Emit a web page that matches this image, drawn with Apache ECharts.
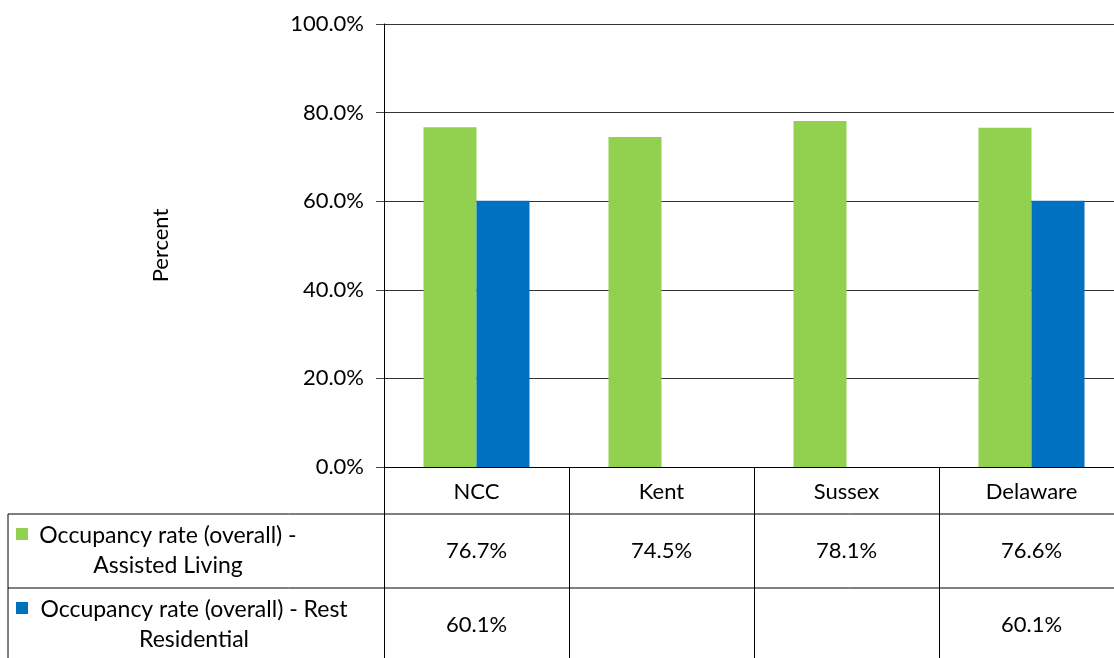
<!DOCTYPE html>
<html><head><meta charset="utf-8">
<script src="https://cdn.jsdelivr.net/npm/echarts@6/dist/echarts.min.js"></script>
<style>html,body{margin:0;padding:0;background:#fff;overflow:hidden;width:1114px;height:658px}#c{width:1130px;height:658px}</style>
</head><body><div id="c"></div>
<script>
const categories = ['NCC', 'Kent', 'Sussex', 'Delaware'];
const assistedLiving = [76.7, 74.5, 78.1, 76.6];
const restResidential = [60.1, null, null, 60.1];
const seriesNames = ['Occupancy rate (overall) -\nAssisted Living', 'Occupancy rate (overall) - Rest\nResidential'];
const yTicks = [0, 20, 40, 60, 80, 100];
const colors = ['#92D050', '#0070C0'];
const FONT = 'Lato';
const FS = 22;

const chart = echarts.init(document.getElementById('c'));
chart.setOption({
  animation: false,
  textStyle: { fontFamily: FONT },
  grid: { left: 384, top: 24, width: 740, height: 443, containLabel: false },
  xAxis: {
    type: 'category', data: categories,
    axisLine: { lineStyle: { color: '#000', width: 1 } },
    axisTick: { show: false },
    axisLabel: { color: '#000', fontSize: FS, fontFamily: FONT, margin: 14 }
  },
  yAxis: {
    type: 'value', min: 0, max: 100, interval: 20,
    name: 'Percent', nameLocation: 'middle', nameGap: 212, nameRotate: 90,
    nameTextStyle: { color: '#000', fontSize: FS, fontFamily: FONT },
    axisLine: { show: true, lineStyle: { color: '#000' } },
    axisTick: { show: true, length: 8, lineStyle: { color: '#444' } },
    axisLabel: { color: '#000', fontSize: FS, fontFamily: FONT, margin: 20,
      formatter: v => yTicks.includes(v) ? v.toFixed(1) + '%' : '' },
    splitLine: { lineStyle: { color: '#333', width: 1 } }
  },
  series: [
    { name: seriesNames[0], type: 'bar', data: assistedLiving, barWidth: 53, barGap: '0%',
      itemStyle: { color: colors[0] } },
    { name: seriesNames[1], type: 'bar', data: restResidential, barWidth: 53, barGap: '0%',
      itemStyle: { color: colors[1] } }
  ]
});

// data table below the chart
const x0 = chart.convertToPixel({ xAxisIndex: 0 }, categories[0]);
const x1 = chart.convertToPixel({ xAxisIndex: 0 }, categories[1]);
const step = x1 - x0;
const axisX = x0 - step / 2;
const yAxisBottom = chart.convertToPixel({ yAxisIndex: 0 }, 0);
const rowTops = [514, 588];
const rowH = 74;
const tableLeft = 8;
const RIGHT = 1130;
const g = [];
const line = (xa, ya, xb, yb) => g.push({ type: 'line', shape: { x1: xa, y1: ya, x2: xb, y2: yb }, style: { stroke: '#000', lineWidth: 1 }, silent: true });
line(tableLeft, rowTops[0], RIGHT, rowTops[0]);
line(tableLeft, rowTops[1], RIGHT, rowTops[1]);
line(tableLeft, rowTops[0], tableLeft, 658);
for (let i = 0; i < categories.length; i++) {
  line(Math.round(axisX + step * i) + 0.5, yAxisBottom, Math.round(axisX + step * i) + 0.5, 658);
}
const rows = [assistedLiving, restResidential];
const legendCenters = [168, 194];
rows.forEach((arr, r) => {
  const cy = rowTops[r] + rowH / 2;
  g.push({ type: 'rect', shape: { x: 16, y: cy - 23, width: 12, height: 12 }, style: { fill: colors[r] } });
  g.push({ type: 'text', x: legendCenters[r], y: cy, style: { text: seriesNames[r], font: '23px ' + FONT, fill: '#000', textAlign: 'center', textVerticalAlign: 'middle', lineHeight: 30 } });
  arr.forEach((v, i) => {
    if (v == null) return;
    const cx = chart.convertToPixel({ xAxisIndex: 0 }, categories[i]);
    g.push({ type: 'text', x: cx, y: cy, style: { text: v.toFixed(1) + '%', font: FS + 'px ' + FONT, fill: '#000', textAlign: 'center', textVerticalAlign: 'middle' } });
  });
});
chart.setOption({ graphic: g });
</script></body></html>
